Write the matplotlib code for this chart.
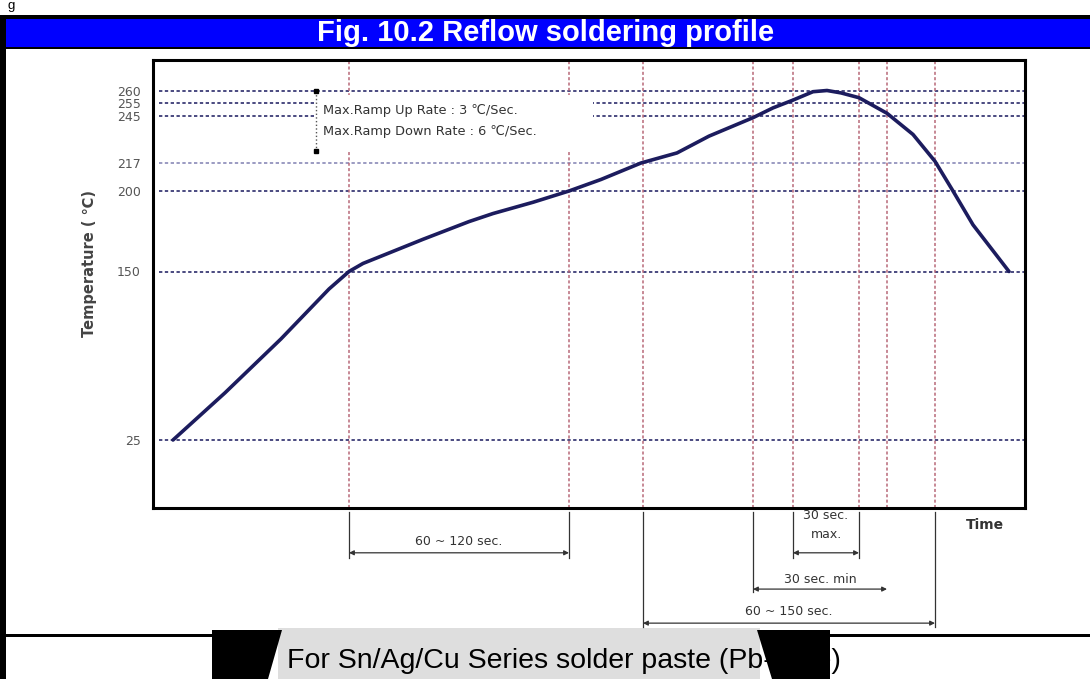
import numpy as np
import matplotlib
matplotlib.use("Agg")
import matplotlib.pyplot as plt
from matplotlib.patches import Rectangle, Polygon
from matplotlib.transforms import blended_transform_factory

# Reflow profile (time in arbitrary sec units, temperature in degC)
time_s = [10, 36, 64, 88, 98, 105, 115, 135, 158, 170, 190, 208, 224, 244, 262, 278,
          300, 310, 320, 330, 337, 344, 353, 367, 380, 391, 400, 410, 428]
temp_c = [25, 60, 100, 137, 150, 155, 160, 170, 181, 186, 193, 200, 207, 217, 223, 233,
          244, 251, 256, 259.5, 260, 259, 257, 247, 234, 218, 200, 179, 150]

# reference temperatures (horizontal guides / y ticks)
ref_temps = [25, 150, 200, 217, 245, 255, 260]
# reference times (vertical guides)
ref_times = [98, 208, 245, 300, 320, 353, 367, 391]

ramp_lines = ["Max.Ramp Up Rate : 3 \u2103/Sec.", "Max.Ramp Down Rate : 6 \u2103/Sec."]

# dimension spans under the time axis
span_labels = ["60 ~ 120 sec.", "30 sec.\nmax.", "30 sec. min", "60 ~ 150 sec."]
span_start = [98, 320, 300, 245]
span_end = [208, 353, 367, 391]

# the drawing is a schematic: temperature axis is not linear
_tk = [-1000, 0, 25, 150, 200, 217, 245, 255, 260, 280, 1280]
_pk = [-2720, 0, 68, 236.5, 317, 345, 392, 405.5, 417.5, 448, 1948]


def fwd(v):
    return np.interp(v, _tk, _pk)


def inv(p):
    return np.interp(p, _pk, _tk)


W, H = 1090, 679
fig = plt.figure(figsize=(W / 100, H / 100), dpi=100)
fig.patch.set_facecolor("white")

# page decoration (pixel coordinates)
bg = fig.add_axes([0, 0, 1, 1])
bg.set_xlim(0, W)
bg.set_ylim(H, 0)
bg.axis("off")
bg.set_zorder(0)
bg.text(8, 0, "g", fontsize=9.5, family="Liberation Sans", va="top", ha="left")
bg.add_patch(Rectangle((0, 15), W, 4, fc="black", ec="none"))
bg.add_patch(Rectangle((5, 19), W - 5, 28, fc="#0000ff", ec="none"))
bg.add_patch(Rectangle((5, 47), W - 5, 2, fc="black", ec="none"))
bg.add_patch(Rectangle((0, 15), 6, H - 15, fc="black", ec="none"))
bg.text(546, 33, "Fig. 10.2 Reflow soldering profile", color="white", fontsize=21,
        fontweight="bold", family="Liberation Sans", ha="center", va="center")
bg.add_patch(Rectangle((5, 634), W - 5, 3, fc="black", ec="none"))
bg.add_patch(Rectangle((278, 628), 482, 51, fc="#dedede", ec="none"))
bg.add_patch(Polygon([(212, 630), (282, 630), (268, H), (212, H)], fc="black", ec="none", zorder=3))
bg.text(564, 661, "For Sn/Ag/Cu Series solder paste (Pb-Free)", fontsize=20.5,
        family="Liberation Sans", ha="center", va="center", zorder=2)
bg.add_patch(Polygon([(757, 630), (830, 630), (830, H), (772, H)], fc="black", ec="none", zorder=3))

# main chart
ax = fig.add_axes([153 / W, 171 / H, 872 / W, 448 / H])
ax.set_zorder(1)
ax.set_facecolor("white")
ax.set_yscale("function", functions=(fwd, inv))
ax.set_xlim(0, 436)
ax.set_ylim(0, 280)

guide_cols = ["#8a8ab8" if t == 217 else "#2b2b6b" for t in ref_temps]
ax.hlines(ref_temps, 3, 436, colors=guide_cols, linestyles=(0, (2, 1.5)), lw=1.2, zorder=1)
ax.vlines(ref_times, 0, 280, colors="#b86878", linestyles=(0, (2, 1.5)), lw=1.1, zorder=1)

# white box behind the ramp-rate note
ax.add_patch(Rectangle((81, 223.5), 139, 34.6, fc="white", ec="none", zorder=2.5))
ax.plot([81.5, 81.5], [260, 224], ls=":", color="#555555", lw=1, marker="s", ms=3,
        mfc="black", mec="black", zorder=3)
ax.text(85, 249.4, ramp_lines[0], fontsize=9.3, color="#333333", va="center", zorder=3)
ax.text(85, 236, ramp_lines[1], fontsize=9.3, color="#333333", va="center", zorder=3)

ax.plot(time_s, temp_c, color="#1c1c5e", lw=2.6, zorder=4, solid_capstyle="round")

ax.set_yticks(ref_temps)
ax.yaxis.set_minor_locator(plt.NullLocator())
ax.tick_params(axis="y", length=0, pad=9, labelsize=9, labelcolor="#555555")
ax.set_xticks([])
for s in ax.spines.values():
    s.set_linewidth(2.2)
    s.set_color("black")

ax.set_ylabel("Temperature ( \u2103)", fontsize=10.5, fontweight="bold", color="#444444")
ax.yaxis.set_label_coords(-0.064, 0.545)

# dimension lines below the axis
trans = blended_transform_factory(ax.transData, ax.transAxes)
arrow_y = [-0.100, -0.100, -0.181, -0.257]
ext_y = [-0.112, -0.112, -0.188, -0.266]
ext_right = [True, True, False, True]
text_y = [-0.074, -0.038, -0.160, -0.232]
dim_col = "#333333"
for i, lab in enumerate(span_labels):
    x0, x1 = span_start[i], span_end[i]
    ax.plot([x0, x0], [-0.009, ext_y[i]], color=dim_col, lw=0.9, transform=trans, clip_on=False)
    if ext_right[i]:
        ax.plot([x1, x1], [-0.009, ext_y[i]], color=dim_col, lw=0.9, transform=trans, clip_on=False)
    ax.annotate("", xy=(x1, arrow_y[i]), xytext=(x0, arrow_y[i]), xycoords=trans, textcoords=trans,
                arrowprops=dict(arrowstyle="<|-|>", color=dim_col, lw=0.9, mutation_scale=7,
                                shrinkA=0, shrinkB=0), annotation_clip=False)
    ax.text((x0 + x1) / 2, text_y[i], lab, transform=trans, ha="center", va="center",
            fontsize=9, color=dim_col, linespacing=1.6)

ax.text(416, -0.038, "Time", transform=trans, ha="center", va="center", fontsize=10,
        fontweight="bold", color="#333333")

fig.savefig("out.png", dpi=100)
